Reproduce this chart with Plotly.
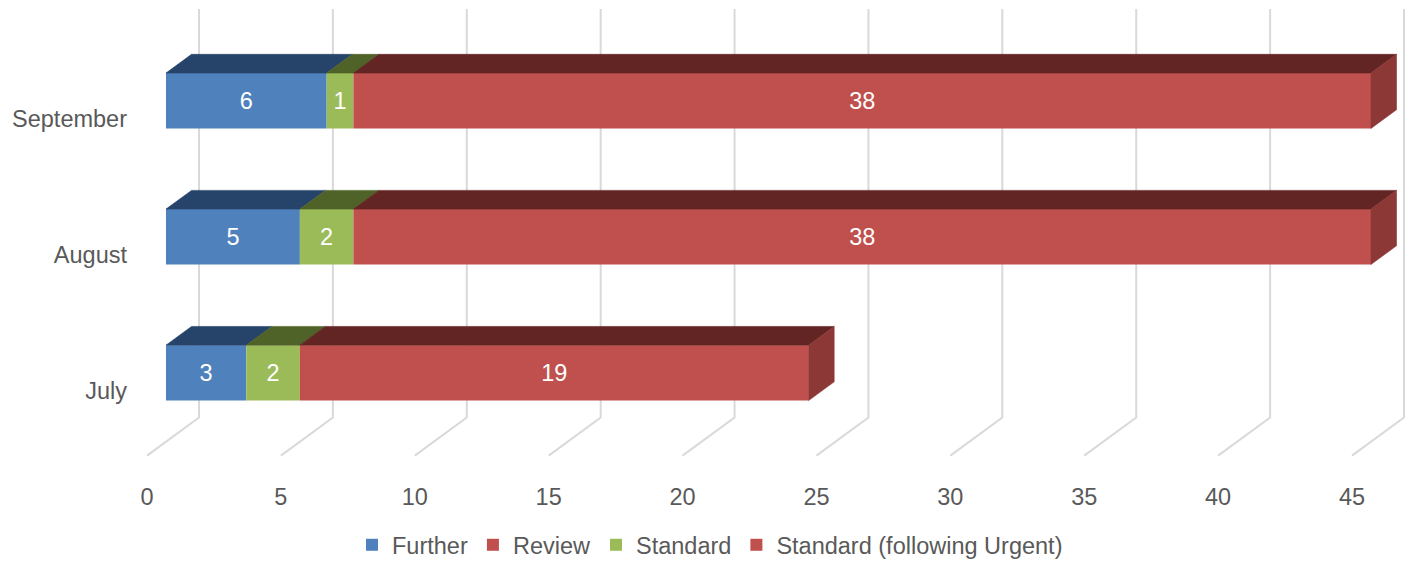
import plotly.graph_objects as go

# ---- data -------------------------------------------------------------
months = ["July", "August", "September"]
series_names = ["Further", "Review", "Standard", "Standard (following Urgent)"]
further = [3, 5, 6]
review = [0, 0, 0]
standard = [2, 2, 1]
standard_urgent = [19, 38, 38]
x_ticks = [0, 5, 10, 15, 20, 25, 30, 35, 40, 45]

series_values = [further, review, standard, standard_urgent]

# ---- styling ----------------------------------------------------------
front_colors = ["#4F81BD", "#C0504D", "#9BBB59", "#C0504D"]
top_colors = ["#264469", "#632523", "#4F6228", "#632523"]
side_colors = ["#1E3654", "#8C3836", "#3F4E20", "#8C3836"]
grid_color = "#D9D9D9"
text_color = "#595959"
font_family = "Liberation Sans, Arial, sans-serif"
font_size = 23.5

W, H = 1409, 567
PX_PER_UNIT = 1205 / 45          # horizontal pixels per value unit
PX_PER_ROW = 137.5               # vertical pixels per category row
X_ZERO_PX = 147                  # pixel column of value 0 on the front floor edge
Y_ROW0_PX = 395                  # pixel row of the first category label
PLOT_LEFT_PX = 128
PLOT_BOTTOM_PX = 486

# oblique projection: full depth of the floor, in axis units
DEPTH_X = 52 / PX_PER_UNIT
DEPTH_Y = 38.5 / PX_PER_ROW
BAR_FRONT = 0.365                # depth of the bar front faces
BAR_BACK = 0.856                 # depth of the bar back faces
BAR_HALF = 28 / PX_PER_ROW       # half height of a bar front
BAR_LIFT = 0.03
FLOOR_FRONT = (Y_ROW0_PX - 460.5) / PX_PER_ROW
WALL_TOP = (Y_ROW0_PX - 9) / PX_PER_ROW

fig = go.Figure()

# ---- front faces as real bars ----------------------------------------
cum = [0.0] * len(months)
segments = []  # (series index, row, start, end)
for k, (name, vals) in enumerate(zip(series_names, series_values)):
    bases = [c + BAR_FRONT * DEPTH_X for c in cum]
    ys = [i + BAR_LIFT + BAR_FRONT * DEPTH_Y for i in range(len(months))]
    fig.add_trace(go.Bar(
        name=name,
        orientation="h",
        y=ys,
        x=vals,
        base=bases,
        width=2 * BAR_HALF,
        marker=dict(color=front_colors[k], line=dict(width=0)),
        text=[str(v) if v > 0 else "" for v in vals],
        textposition="inside",
        insidetextanchor="middle",
        textangle=0,
        insidetextfont=dict(color="white", size=font_size, family=font_family),
        hovertemplate=name + ": %{x}<extra></extra>",
    ))
    for i, v in enumerate(vals):
        if v > 0:
            segments.append((k, i, cum[i], cum[i] + v))
        cum[i] += v

totals = cum


def proj(v, y, d):
    return v + d * DEPTH_X, y + d * DEPTH_Y


# ---- top faces --------------------------------------------------------
for k in range(len(series_names)):
    xs, ys = [], []
    for (kk, i, v0, v1) in segments:
        if kk != k:
            continue
        top = i + BAR_LIFT + BAR_HALF
        pts = [proj(v0, top, BAR_FRONT), proj(v1, top, BAR_FRONT),
               proj(v1, top, BAR_BACK), proj(v0, top, BAR_BACK),
               proj(v0, top, BAR_FRONT)]
        xs += [p[0] for p in pts] + [None]
        ys += [p[1] for p in pts] + [None]
    if xs:
        fig.add_trace(go.Scatter(
            x=xs, y=ys, mode="lines", fill="toself",
            fillcolor=top_colors[k], line=dict(color=top_colors[k], width=0.6),
            showlegend=False, hoverinfo="skip",
        ))

# ---- right side faces (last visible segment of each row) -------------
side_x, side_y, side_k = [], [], None
for i in range(len(months)):
    last = [s for s in segments if s[1] == i][-1]
    side_k = last[0]
    t = totals[i]
    c = i + BAR_LIFT
    pts = [proj(t, c - BAR_HALF, BAR_FRONT), proj(t, c + BAR_HALF, BAR_FRONT),
           proj(t, c + BAR_HALF, BAR_BACK), proj(t, c - BAR_HALF, BAR_BACK),
           proj(t, c - BAR_HALF, BAR_FRONT)]
    side_x += [p[0] for p in pts] + [None]
    side_y += [p[1] for p in pts] + [None]
fig.add_trace(go.Scatter(
    x=side_x, y=side_y, mode="lines", fill="toself",
    fillcolor=side_colors[side_k], line=dict(color=side_colors[side_k], width=0.6),
    showlegend=False, hoverinfo="skip",
))

# ---- floor and back-wall gridlines ------------------------------------
shapes = []
for v in x_ticks:
    fx, fy = proj(v, FLOOR_FRONT, 0)
    bx, by = proj(v, FLOOR_FRONT, 1)
    shapes.append(dict(
        type="path", xref="x", yref="y", layer="below",
        path=f"M {fx},{fy} L {bx},{by} L {bx},{WALL_TOP}",
        line=dict(color=grid_color, width=2),
    ))

# ---- layout -----------------------------------------------------------
x_min = (PLOT_LEFT_PX - X_ZERO_PX) / PX_PER_UNIT
x_max = (W - X_ZERO_PX) / PX_PER_UNIT
y_max = Y_ROW0_PX / PX_PER_ROW
y_min = (Y_ROW0_PX - PLOT_BOTTOM_PX) / PX_PER_ROW

fig.update_layout(
    width=W, height=H,
    margin=dict(l=0, r=0, t=0, b=0),
    paper_bgcolor="white", plot_bgcolor="white",
    barmode="overlay",
    shapes=shapes,
    font=dict(family=font_family, size=font_size, color=text_color),
    xaxis=dict(
        domain=[PLOT_LEFT_PX / W, 1],
        range=[x_min, x_max],
        tickvals=x_ticks,
        ticktext=[str(t) for t in x_ticks],
        showgrid=False, zeroline=False, showline=False, ticks="",
        tickfont=dict(size=font_size, color=text_color),
        fixedrange=True,
    ),
    yaxis=dict(
        domain=[(H - PLOT_BOTTOM_PX) / H, 1],
        range=[y_min, y_max],
        tickvals=list(range(len(months))),
        ticktext=months,
        showgrid=False, zeroline=False, showline=False, ticks="",
        tickfont=dict(size=font_size, color=text_color),
        fixedrange=True,
    ),
    legend=dict(
        orientation="h",
        x=710 / W, xanchor="center",
        y=(H - 551) / H, yanchor="middle",
        font=dict(size=font_size, color=text_color),
        itemwidth=30,
        traceorder="normal",
        bgcolor="rgba(0,0,0,0)",
    ),
    showlegend=True,
)

fig.write_html("out.html")
